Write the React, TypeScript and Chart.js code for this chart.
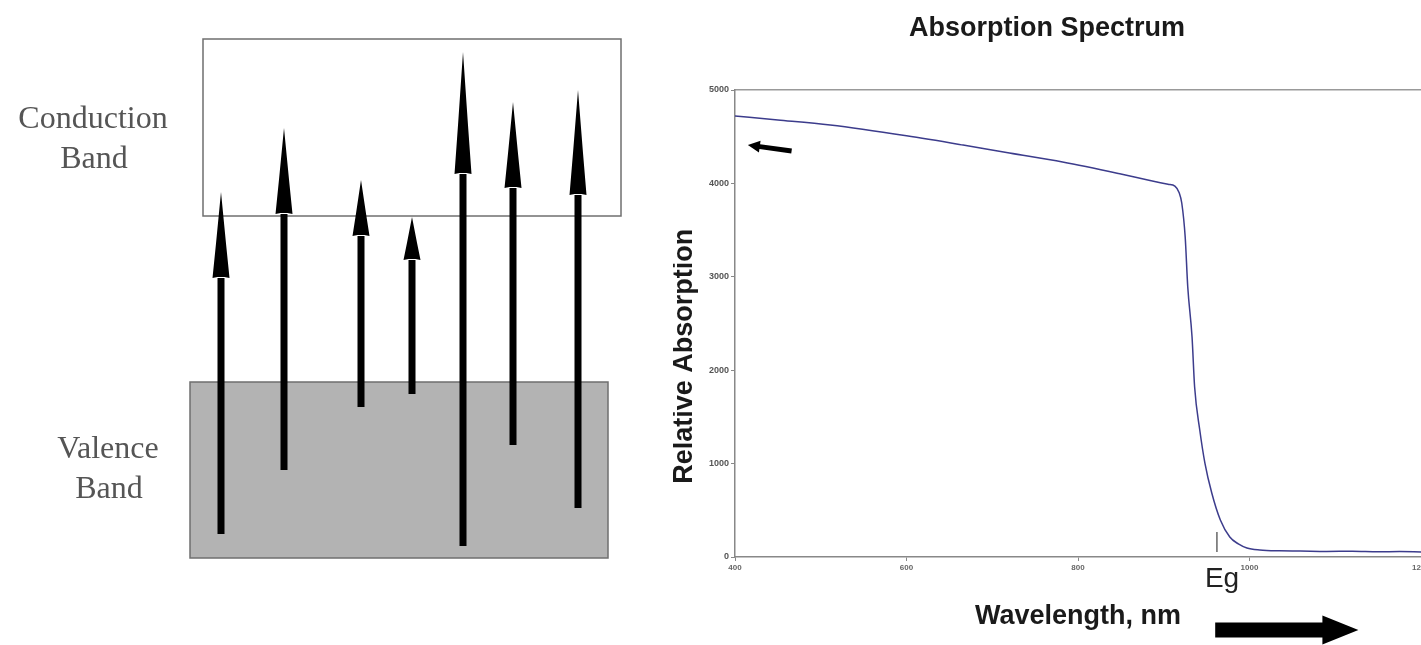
import React, { useEffect, useRef } from "react";
import { Chart, registerables } from "chart.js";

Chart.register(...registerables);
Chart.defaults.font.family = '"Liberation Sans", Arial, sans-serif';

// ---------- Absorption spectrum (right chart) ----------
const wavelengths = [400, 450, 511, 600, 666, 720, 782, 850, 884, 905, 913, 918, 921, 925, 928, 933, 936, 942, 948, 956, 966, 977, 987, 997, 1012, 1035, 1059, 1090, 1120, 1150, 1175, 1200];
const absorption = [4722, 4680, 4625, 4510, 4411, 4325, 4229, 4100, 4030, 3990, 3970, 3900, 3790, 3426, 2891, 2355, 1820, 1360, 1006, 685, 396, 214, 140, 96, 75, 66, 64, 60, 62, 57, 58, 54];
const xTicks = [400, 600, 800, 1000, 1200];
const yTicks = [0, 1000, 2000, 3000, 4000, 5000];
const egWavelength = 962;
const egMarkerRange = [267, 54];
const shortArrowFrom = [466, 4347];
const shortArrowTo = [415, 4411];
const bigArrowRange = [960, 1127];

// ---------- Band diagram (left chart) ----------
const arrowX = [221, 284, 361, 412, 463, 513, 578];
const arrowTail = [111, 175, 238, 251, 99, 200, 137];
const arrowHeadBase = [367, 431, 409, 385, 471, 457, 450];
const arrowTip = [453, 517, 465, 428, 593, 543, 555];
const conductionBand = { x: [203, 621], e: [429, 606] };
const valenceBand = { x: [190, 608], e: [87, 263] };
const bandLabels = [
  { text: "Conduction", x: 93, e: 525 },
  { text: "Band", x: 94, e: 485 },
  { text: "Valence", x: 108, e: 195 },
  { text: "Band", x: 109, e: 155 },
];

const bandPlugin = {
  id: "bands",
  beforeDatasetsDraw(chart: any) {
    const { ctx, scales } = chart;
    const rect = (b: any, fill: string) => {
      const x0 = scales.x.getPixelForValue(b.x[0]);
      const x1 = scales.x.getPixelForValue(b.x[1]);
      const y0 = scales.y.getPixelForValue(b.e[1]);
      const y1 = scales.y.getPixelForValue(b.e[0]);
      ctx.save();
      ctx.fillStyle = fill;
      ctx.fillRect(x0, y0, x1 - x0, y1 - y0);
      ctx.strokeStyle = "#6f6f6f";
      ctx.lineWidth = 1.5;
      ctx.strokeRect(x0, y0, x1 - x0, y1 - y0);
      ctx.restore();
    };
    rect(conductionBand, "#ffffff");
    rect(valenceBand, "#b3b3b3");
  },
  afterDatasetsDraw(chart: any) {
    const { ctx, scales } = chart;
    ctx.save();
    ctx.fillStyle = "#000";
    arrowX.forEach((xv, i) => {
      const x = scales.x.getPixelForValue(xv);
      const yt = scales.y.getPixelForValue(arrowTip[i]);
      const yb = scales.y.getPixelForValue(arrowHeadBase[i]);
      const h = yb - yt;
      ctx.beginPath();
      ctx.moveTo(x, yt);
      ctx.lineTo(x + 5, yt + h * 0.6);
      ctx.lineTo(x + 8.5, yb);
      ctx.lineTo(x + 3.5, yb - 1);
      ctx.lineTo(x - 3.5, yb - 1);
      ctx.lineTo(x - 8.5, yb);
      ctx.lineTo(x - 5, yt + h * 0.6);
      ctx.closePath();
      ctx.fill();
    });
    ctx.restore();
  },
  afterDraw(chart: any) {
    const { ctx, scales } = chart;
    ctx.save();
    ctx.font = '32px "Liberation Serif", "Times New Roman", serif';
    ctx.fillStyle = "#555";
    ctx.textAlign = "center";
    ctx.textBaseline = "middle";
    bandLabels.forEach((l) => {
      ctx.fillText(l.text, scales.x.getPixelForValue(l.x), scales.y.getPixelForValue(l.e));
    });
    ctx.restore();
  },
};

const drawArrow = (ctx: any, x0: number, y0: number, x1: number, y1: number, shaft: number, headW: number, headL: number) => {
  const ang = Math.atan2(y1 - y0, x1 - x0);
  const len = Math.hypot(x1 - x0, y1 - y0);
  ctx.save();
  ctx.translate(x0, y0);
  ctx.rotate(ang);
  ctx.fillStyle = "#000";
  ctx.beginPath();
  ctx.moveTo(0, -shaft / 2);
  ctx.lineTo(len - headL, -shaft / 2);
  ctx.lineTo(len - headL, -headW / 2);
  ctx.lineTo(len, 0);
  ctx.lineTo(len - headL, headW / 2);
  ctx.lineTo(len - headL, shaft / 2);
  ctx.lineTo(0, shaft / 2);
  ctx.closePath();
  ctx.fill();
  ctx.restore();
};

const spectrumPlugin = {
  id: "spectrumDecor",
  afterDraw(chart: any) {
    const { ctx, scales, chartArea } = chart;
    const X = scales.x, Y = scales.y;
    // y title
    ctx.save();
    ctx.translate(Y.left + 12, Y.getPixelForValue(2150));
    ctx.rotate(-Math.PI / 2);
    ctx.font = 'bold 27px "Liberation Sans", Arial, sans-serif';
    ctx.fillStyle = "#1a1a1a";
    ctx.textAlign = "center";
    ctx.textBaseline = "middle";
    ctx.fillText("Relative Absorption", 0, 0);
    ctx.restore();
    // Eg marker
    const ex = X.getPixelForValue(egWavelength);
    ctx.save();
    ctx.strokeStyle = "#666";
    ctx.lineWidth = 1.5;
    ctx.beginPath();
    ctx.moveTo(ex, Y.getPixelForValue(egMarkerRange[0]));
    ctx.lineTo(ex, Y.getPixelForValue(egMarkerRange[1]));
    ctx.stroke();
    ctx.font = '28px "Liberation Sans", Arial, sans-serif';
    ctx.fillStyle = "#222";
    ctx.textAlign = "left";
    ctx.textBaseline = "middle";
    ctx.fillText("Eg", ex - 12, chartArea.bottom + 22);
    ctx.restore();
    // small arrow pointing left
    drawArrow(ctx, X.getPixelForValue(shortArrowFrom[0]), Y.getPixelForValue(shortArrowFrom[1]),
      X.getPixelForValue(shortArrowTo[0]), Y.getPixelForValue(shortArrowTo[1]), 5, 12, 12);
    // big arrow pointing right
    const by = chartArea.bottom + 73;
    drawArrow(ctx, X.getPixelForValue(bigArrowRange[0]), by, X.getPixelForValue(bigArrowRange[1]), by, 15, 29, 36);
  },
};

export default function App() {
  const leftRef = useRef<HTMLCanvasElement>(null);
  const rightRef = useRef<HTMLCanvasElement>(null);

  useEffect(() => {
    const left = new Chart(leftRef.current as HTMLCanvasElement, {
      type: "scatter",
      data: {
        datasets: arrowX.map((x, i) => ({
          data: [{ x, y: arrowTail[i] }, { x, y: arrowHeadBase[i] }],
          showLine: true,
          borderColor: "#000",
          backgroundColor: "#000",
          borderWidth: 7,
          borderCapStyle: "butt",
          pointRadius: 0,
        })),
      } as any,
      options: {
        animation: false,
        responsive: false,
        layout: { padding: 0 },
        plugins: { legend: { display: false }, tooltip: { enabled: false } },
        scales: {
          x: { type: "linear", min: 0, max: 673, display: false },
          y: { type: "linear", min: 0, max: 645, display: false },
        },
      } as any,
      plugins: [bandPlugin],
    });

    const tickFont = { size: 9, weight: "bold" as const };
    const right = new Chart(rightRef.current as HTMLCanvasElement, {
      type: "line",
      data: {
        datasets: [
          {
            data: wavelengths.map((w, i) => ({ x: w, y: absorption[i] })),
            borderColor: "#3c3c8c",
            borderWidth: 1.5,
            pointRadius: 0,
            cubicInterpolationMode: "monotone",
          },
        ],
      } as any,
      options: {
        animation: false,
        responsive: false,
        layout: { padding: 0 },
        plugins: {
          legend: { display: false },
          tooltip: { enabled: false },
          title: {
            display: true,
            text: "Absorption Spectrum",
            color: "#1a1a1a",
            font: { size: 27, weight: "bold" },
            padding: { top: 12, bottom: 45.6 },
          },
        },
        scales: {
          x: {
            type: "linear",
            min: 400,
            max: 1200,
            afterBuildTicks: (s: any) => { s.ticks = xTicks.map((v) => ({ value: v })); },
            afterFit: (s: any) => { s.height = 88; s.paddingLeft = 0; s.paddingRight = 0; },
            ticks: { font: { size: 8, weight: "bold" }, color: "#666", padding: 2, maxRotation: 0, callback: (v: any) => String(v) },
            grid: { display: true, drawOnChartArea: false, drawTicks: true, tickLength: 4, color: "#888" },
            border: { display: true, color: "#888", width: 1.5 },
            title: {
              display: true,
              text: "Wavelength, nm",
              color: "#1a1a1a",
              font: { size: 27, weight: "bold" },
              padding: { top: 0, bottom: 11.8 },
            },
          },
          x2: {
            type: "linear",
            position: "top",
            min: 400,
            max: 1200,
            ticks: { display: false },
            grid: { display: false },
            border: { display: true, color: "#999", width: 1.5 },
            afterFit: (s: any) => { s.height = 0; s.paddingLeft = 0; s.paddingRight = 0; },
          },
          y: {
            type: "linear",
            min: 0,
            max: 5000,
            afterBuildTicks: (s: any) => { s.ticks = yTicks.map((v) => ({ value: v })); },
            afterFit: (s: any) => { s.width = 62; s.paddingTop = 0; s.paddingBottom = 0; },
            ticks: { font: tickFont, color: "#555", padding: 2, callback: (v: any) => String(v) },
            grid: { display: true, drawOnChartArea: false, drawTicks: true, tickLength: 4, color: "#888" },
            border: { display: true, color: "#888", width: 1.5 },
          },
        },
      } as any,
      plugins: [spectrumPlugin],
    });

    return () => {
      left.destroy();
      right.destroy();
    };
  }, []);

  return (
    <div style={{ position: "absolute", left: 0, top: 0, width: 1421, height: 645, background: "#fff", overflow: "hidden" }}>
      <canvas ref={leftRef} width={673} height={645} style={{ position: "absolute", left: 0, top: 0 }} />
      <canvas ref={rightRef} width={748} height={645} style={{ position: "absolute", left: 673, top: 0 }} />
    </div>
  );
}
